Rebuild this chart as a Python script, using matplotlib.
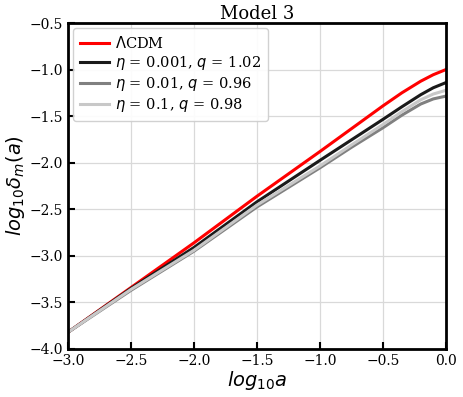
import matplotlib
matplotlib.use("Agg")
import matplotlib.pyplot as plt

# log10 a sample points
log_a = [-3.0, -2.5, -2.0, -1.5, -1.0, -0.75, -0.5, -0.35, -0.2, -0.1, 0.0]

# log10 delta_m
lcdm = [-3.82, -3.34, -2.86, -2.36, -1.88, -1.635, -1.39, -1.25, -1.125, -1.055, -1.0]
eta_0001 = [-3.82, -3.35, -2.91, -2.42, -1.975, -1.755, -1.535, -1.40, -1.27, -1.195, -1.14]
eta_001 = [-3.82, -3.37, -2.95, -2.475, -2.055, -1.835, -1.625, -1.49, -1.37, -1.315, -1.285]
eta_01 = [-3.82, -3.36, -2.94, -2.455, -2.035, -1.81, -1.59, -1.452, -1.3245, -1.2625, -1.2225]

labels = [r"$\Lambda$CDM",
          r"$\eta$ = 0.001, $q$ = 1.02",
          r"$\eta$ = 0.01, $q$ = 0.96",
          r"$\eta$ = 0.1, $q$ = 0.98"]
colors = ["#ff0000", "#1a1a1a", "#808080", "#c8c8c8"]

plt.rcParams["font.family"] = "DejaVu Serif"
plt.rcParams["mathtext.fontset"] = "dejavusans"

fig = plt.figure(figsize=(4.63, 3.97), dpi=100)
ax = fig.add_axes([0.147, 0.121, 0.816, 0.821])

for ys, lab, c in zip([lcdm, eta_0001, eta_001, eta_01], labels, colors):
    ax.plot(log_a, ys, color=c, lw=2.2, label=lab)

ax.set_xlim(-3.0, 0.0)
ax.set_ylim(-4.0, -0.5)
ax.grid(True, color="#d9d9d9", lw=0.9)
ax.set_axisbelow(True)

for s in ax.spines.values():
    s.set_linewidth(2)
ax.tick_params(direction="in", length=5, width=1.5, labelsize=10)

ax.set_title("Model 3", fontsize=13, pad=2)
ax.set_xlabel(r"$log_{10}a$", fontsize=14, labelpad=1)
ax.set_ylabel(r"$log_{10}\delta_m(a)$", fontsize=14, labelpad=2)

ax.legend(loc="upper left", fontsize=10.5, handlelength=2.0, labelspacing=0.22,
          borderaxespad=0.35, borderpad=0.45, handletextpad=0.45, framealpha=0.9)

fig.savefig("out.png", dpi=100)
